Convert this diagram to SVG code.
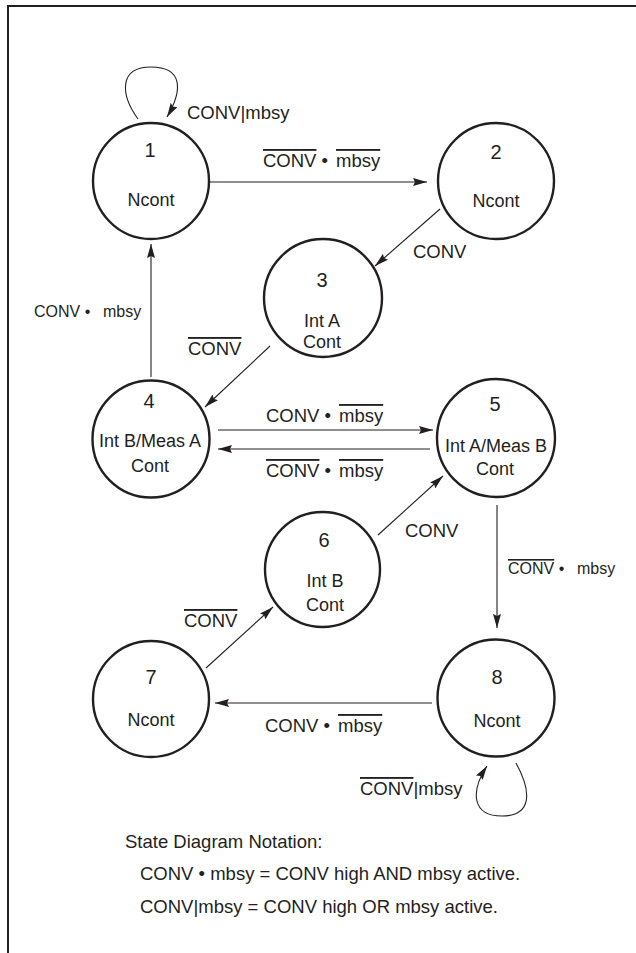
<svg xmlns="http://www.w3.org/2000/svg" width="636" height="953" viewBox="0 0 636 953">
<style>
text{font-family:"Liberation Sans",Arial,sans-serif;fill:#231f20}
.num{font-size:20px;text-anchor:middle}
.nt{font-size:18px;text-anchor:middle}
.lb{font-size:18.5px}
.sm{font-size:16px}
.ov{text-decoration:overline}
.node circle{fill:#fff;stroke:#231f20;stroke-width:2.4}
.edge{fill:none;stroke:#231f20;stroke-width:1.1}
</style>
<defs>
<marker id="ah" markerUnits="userSpaceOnUse" markerWidth="14" markerHeight="8" refX="14" refY="4" orient="auto">
<path d="M0,0 L14,4 L0,8 L2,4 z" fill="#231f20"/>
</marker>
</defs>
<path d="M8,953 V6 H636" fill="none" stroke="#231f20" stroke-width="2"/>
<g id="connectors">
<path class="edge" d="M138,119 C120,94 119,67 151,67 C183,67 183,90 167,117" marker-end="url(#ah)"/>
<path class="edge" d="M209,182 H427" marker-end="url(#ah)"/>
<path class="edge" d="M440,209 L375,266" marker-end="url(#ah)"/>
<path class="edge" d="M151,377 V244" marker-end="url(#ah)"/>
<path class="edge" d="M270,346 L205,407" marker-end="url(#ah)"/>
<path class="edge" d="M218,430 H433" marker-end="url(#ah)"/>
<path class="edge" d="M430,449 H218" marker-end="url(#ah)"/>
<path class="edge" d="M378,535 L443,476" marker-end="url(#ah)"/>
<path class="edge" d="M497,505 V628" marker-end="url(#ah)"/>
<path class="edge" d="M206,668 L273,607" marker-end="url(#ah)"/>
<path class="edge" d="M432,703 H215" marker-end="url(#ah)"/>
<path class="edge" d="M516,763 C532,792 532,816 502,816 C472,816 470,792 487,766" marker-end="url(#ah)"/>
<text class="lb" x="187" y="119">CONV|mbsy</text>
<text class="lb" x="263" y="167"><tspan class="ov">CONV</tspan> • <tspan class="ov" x="336">mbsy</tspan></text>
<text class="lb" x="413" y="258">CONV</text>
<text class="sm" x="34" y="317">CONV • <tspan x="103">mbsy</tspan></text>
<text class="lb" x="188" y="355"><tspan class="ov">CONV</tspan></text>
<text class="lb" x="266" y="422">CONV • <tspan class="ov" x="339">mbsy</tspan></text>
<text class="lb" x="266" y="477"><tspan class="ov">CONV</tspan> • <tspan class="ov" x="339">mbsy</tspan></text>
<text class="lb" x="405" y="537">CONV</text>
<text class="sm" x="508" y="574"><tspan class="ov">CONV</tspan> • <tspan x="577">mbsy</tspan></text>
<text class="lb" x="184" y="627"><tspan class="ov">CONV</tspan></text>
<text class="lb" x="265" y="732">CONV • <tspan class="ov" x="338">mbsy</tspan></text>
<text class="lb" x="360" y="795"><tspan class="ov">CONV</tspan>|mbsy</text>
</g>
<g id="node1" class="node"><circle cx="151" cy="181" r="58"/><text class="num" x="150" y="157">1</text><text class="nt" x="151" y="206">Ncont</text></g>
<g id="node2" class="node"><circle cx="496" cy="181" r="58"/><text class="num" x="496" y="159">2</text><text class="nt" x="496" y="207">Ncont</text></g>
<g id="node3" class="node"><circle cx="323" cy="298" r="59"/><text class="num" x="322" y="287">3</text><text class="nt" x="322" y="327">Int A</text><text class="nt" x="322" y="348">Cont</text></g>
<g id="node4" class="node"><circle cx="151" cy="439" r="58.5"/><text class="num" x="149" y="408">4</text><text class="nt" x="150" y="447">Int B/Meas A</text><text class="nt" x="150" y="472">Cont</text></g>
<g id="node5" class="node"><circle cx="496" cy="438" r="59"/><text class="num" x="495" y="411">5</text><text class="nt" x="496" y="452">Int A/Meas B</text><text class="nt" x="495" y="475">Cont</text></g>
<g id="node6" class="node"><circle cx="322.5" cy="569.5" r="57.5"/><text class="num" x="324" y="547">6</text><text class="nt" x="325" y="587">Int B</text><text class="nt" x="325" y="611">Cont</text></g>
<g id="node7" class="node"><circle cx="151" cy="699" r="58"/><text class="num" x="151" y="684">7</text><text class="nt" x="151" y="726">Ncont</text></g>
<g id="node8" class="node"><circle cx="496" cy="698" r="58.5"/><text class="num" x="497" y="684">8</text><text class="nt" x="497" y="727">Ncont</text></g>
<g id="notation">
<text class="lb" x="125" y="848">State Diagram Notation:</text>
<text class="lb" x="140" y="880">CONV • mbsy = CONV high AND mbsy active.</text>
<text class="lb" x="140" y="913">CONV|mbsy = CONV high OR mbsy active.</text>
</g>
</svg>
